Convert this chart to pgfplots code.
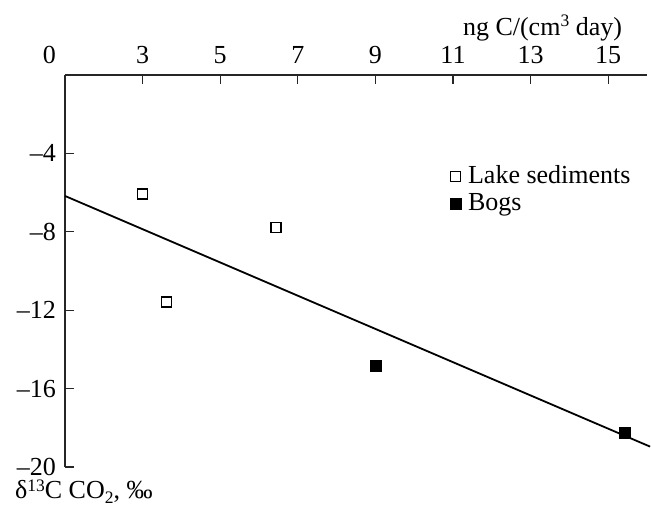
\documentclass[border=0pt]{standalone}
\usepackage{fontspec}
\setmainfont{Liberation Serif}
\usepackage{pgfplots}
\pgfplotsset{compat=1.18}
\newcommand\sups[1]{\raisebox{0.32em}{\fontsize{17.5bp}{18bp}\selectfont #1}}
\newcommand\lsups[1]{\raisebox{0.26em}{\fontsize{17.5bp}{18bp}\selectfont #1}}
\newcommand\subs[1]{\raisebox{-0.2em}{\fontsize{17.5bp}{18bp}\selectfont #1}}
\begin{document}
\fontsize{26bp}{31bp}\selectfont
\begin{tikzpicture}
\begin{axis}[
 x=38.8bp, y=19.6bp,
 xmin=1, xmax=16, ymin=-20, ymax=0,
 axis x line=top, axis y line=left,
 axis line style={-, line width=1.1bp, black!85},
 xtick={3,5,7,9,11,13,15}, xticklabels={3,5,7,9,11,13,15},
 ytick={-20,-16,-12,-8,-4}, yticklabels={--20,--16,--12,--8,--4},
 tick align=inside, major tick length=9bp,
 tick style={line width=1.1bp, black!85},
 xticklabel style={anchor=base, inner sep=0pt, yshift=12bp},
 yticklabel style={anchor=east, inner sep=0pt, xshift=-9bp},
 clip=false,
 legend style={at={(axis cs:10.92,-4.6)}, anchor=north west, draw=none, fill=none,
   inner sep=0pt, row sep=6bp, column sep=7bp, nodes={inner sep=0pt}},
 legend cell align=left,
 legend image code/.code={\draw[#1] plot coordinates {(0bp,0bp)};},
]
\addplot[line width=1.8bp, forget plot] coordinates {(1,-6.17) (16.08,-18.96)};
\addplot[only marks, mark=square, mark size=5bp, mark options={line width=1.2bp, fill=white}]
  coordinates {(3.0,-6.07) (6.44,-7.76) (3.61,-11.58)};
\addlegendentry{Lake sediments}
\addplot[only marks, mark=square*, mark size=5.5bp, mark options={fill=black}]
  coordinates {(9.02,-14.85) (15.42,-18.25)};
\addlegendentry{Bogs}
\node[anchor=base, inner sep=0pt, yshift=12bp] at (axis cs:0.6,0) {0};
\node[anchor=base east, inner sep=0pt] at (axis cs:15.36,2.04) {ng C/(cm\sups{3} day)};
\node[anchor=base west, inner sep=0pt] at (axis cs:-0.289,-21.6) {δ\lsups{13}C CO\subs{2}, ‰};
\path (axis cs:-0.675,-22.449) rectangle (axis cs:16.103,3.827);
\end{axis}
\end{tikzpicture}
\end{document}
